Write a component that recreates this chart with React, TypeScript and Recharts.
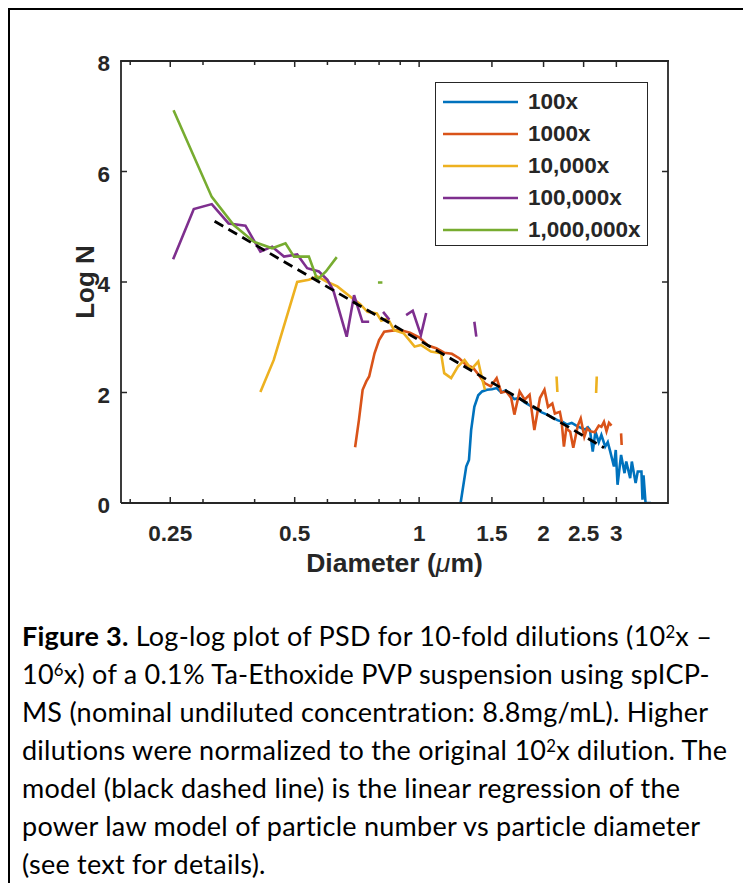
import React from 'react';
import { LineChart, Line, XAxis, YAxis, Legend } from 'recharts';

const AXIS = '#262626';
const FONT = '"Liberation Sans", Arial, Helvetica, sans-serif';
const CAPTION_FONT = 'Lato, "Open Sans", sans-serif';

const seriesNames = ['100x', '1000x', '10,000x', '100,000x', '1,000,000x'];
const seriesColors = ['#0072BD', '#D95319', '#EDB120', '#7E2F8E', '#77AC30'];

const xMajorTicks = [0.25, 0.5, 1, 1.5, 2, 2.5, 3];
const xMinorTicks = [0.2, 0.3, 0.4, 0.6, 0.7, 0.8, 0.9];
const yTicks = [0, 2, 4, 6, 8];
const xDomain = [0.19, 4];
const yDomain = [0, 8];

type P = { d: number; n: number | null };
const pts = (a: [number, number | null][]): P[] => a.map(([d, n]) => ({ d, n }));

const dil100x = pts([
  [1.26, 0], [1.3, 0.66], [1.32, 0.78], [1.336, 1.32], [1.36, 1.74], [1.39, 1.95], [1.42, 2.02],
  [1.46, 2.05], [1.5, 2.06], [1.54, 2.08], [1.58, 2.0], [1.62, 2.04], [1.66, 1.95], [1.7, 1.88],
  [1.75, 1.9], [1.8, 1.82], [1.86, 1.76], [1.92, 1.7], [1.98, 1.64], [2.04, 1.6], [2.1, 1.55],
  [2.16, 1.5], [2.22, 1.47], [2.28, 1.42], [2.34, 1.45], [2.4, 1.4], [2.46, 1.36], [2.52, 1.33],
  [2.56, 1.37], [2.59, 1.32], [2.63, 0.93], [2.67, 1.29], [2.72, 1.1], [2.76, 1.23], [2.82, 1.02],
  [2.86, 1.1], [2.9, 0.93], [2.96, 0.66], [2.99, 0.96], [3.02, 0.33], [3.08, 0.87], [3.14, 0.54],
  [3.17, 0.75], [3.24, 0.45], [3.27, 0.75], [3.34, 0.36], [3.38, 0.57], [3.45, 0.57], [3.47, 0.06],
  [3.49, 0.5], [3.53, 0], [3.64, 0],
]);

const dil1000x = pts([
  [0.7, 1.01], [0.715, 1.5], [0.73, 2.05], [0.745, 2.2], [0.757, 2.29], [0.78, 2.71], [0.8, 2.95],
  [0.823, 3.1], [0.86, 3.12], [0.9, 3.13], [0.95, 3.08], [1.0, 3.0], [1.05, 2.85], [1.1, 2.8],
  [1.15, 2.72], [1.2, 2.7], [1.25, 2.62], [1.3, 2.5], [1.35, 2.45], [1.4, 2.3], [1.44, 2.17],
  [1.49, 2.11], [1.54, 2.26], [1.58, 2.0], [1.625, 2.02], [1.67, 1.9], [1.7, 1.6], [1.75, 2.02],
  [1.8, 1.87], [1.85, 1.96], [1.9, 1.32], [1.96, 1.9], [2.01, 2.05], [2.05, 1.74], [2.1, 1.8],
  [2.13, 1.62], [2.19, 1.65], [2.21, 1.5], [2.24, 1.02], [2.27, 1.35], [2.32, 1.29], [2.36, 1.0],
  [2.42, 1.4], [2.46, 1.53], [2.51, 1.2], [2.55, 1.35], [2.59, 1.3], [2.66, 1.28], [2.72, 1.4],
  [2.76, 1.38], [2.8, 1.47], [2.84, 1.3], [2.88, 1.45], [2.92, 1.4], [3.0, null], [3.08, 1.26],
  [3.09, 1.05],
]);

const dil10000x = pts([
  [0.413, 2.01], [0.445, 2.59], [0.507, 4.0], [0.541, 4.04], [0.567, 4.1], [0.6, 4.0], [0.634, 3.92],
  [0.683, 3.73], [0.72, 3.6], [0.75, 3.46], [0.79, 3.43], [0.81, 3.3], [0.84, 3.34], [0.87, 3.13],
  [0.918, 3.07], [0.975, 2.83], [1.01, 2.86], [1.068, 2.74], [1.13, 2.71], [1.15, 2.35], [1.195, 2.26],
  [1.241, 2.47], [1.288, 2.59], [1.337, 2.42], [1.39, 2.56], [1.416, 2.29], [1.443, 2.05],
  [1.8, null], [2.15, 2.29], [2.16, 2.01], [2.4, null], [2.69, 2.29], [2.68, 1.99],
]);

const dil100000x = pts([
  [0.254, 4.41], [0.285, 5.32], [0.315, 5.41], [0.346, 5.06], [0.38, 5.02], [0.413, 4.55],
  [0.441, 4.64], [0.471, 4.46], [0.507, 4.5], [0.536, 4.25], [0.572, 4.19], [0.6, 4.04],
  [0.62, 3.85], [0.668, 3.01], [0.696, 3.76], [0.729, 3.28], [0.757, 3.28], [0.79, null],
  [0.818, 3.46], [0.847, 3.32], [0.9, null], [0.93, 3.4], [0.965, 3.48], [1.01, 3.04], [1.04, 3.44],
  [1.2, null], [1.36, 3.28], [1.375, 3.01],
]);

const dil1000000x = pts([
  [0.2546, 7.11], [0.315, 5.54], [0.356, 5.03], [0.398, 4.73], [0.441, 4.61], [0.475, 4.7],
  [0.498, 4.46], [0.541, 4.46], [0.567, 4.04], [0.595, 4.19], [0.632, 4.45], [0.7, null],
  [0.795, 3.99], [0.815, 3.99],
]);

const modelFit = pts([[0.32, 5.1], [2.8, 1.0]]);

const seriesData = [dil100x, dil1000x, dil10000x, dil100000x, dil1000000x];
const allXTicks = [...xMinorTicks, ...xMajorTicks].sort((a, b) => a - b);

// chart geometry
const CHART_W = 733;
const CHART_H = 600;
const MARGIN = { top: 51, right: 75, left: 51, bottom: 47 };
const Y_AXIS_W = 60;
const X_AXIS_H = 60;
const PLOT_L = MARGIN.left + Y_AXIS_W;
const PLOT_T = MARGIN.top;
const PLOT_W = CHART_W - MARGIN.left - MARGIN.right - Y_AXIS_W;
const PLOT_H = CHART_H - MARGIN.top - MARGIN.bottom - X_AXIS_H;
const PLOT_R = PLOT_L + PLOT_W;
const PLOT_B = PLOT_T + PLOT_H;
// same log / linear mapping the chart uses, for the mirrored box ticks only
const xPos = (v: number) => PLOT_L + (PLOT_W * Math.log(v / xDomain[0])) / Math.log(xDomain[1] / xDomain[0]);
const yPos = (v: number) => PLOT_B - (PLOT_H * (v - yDomain[0])) / (yDomain[1] - yDomain[0]);

const BottomTick = (props: any) => {
  const { x, y, payload } = props;
  const v = payload.value;
  const major = xMajorTicks.includes(v);
  return (
    <g>
      <line x1={x} x2={x} y1={y} y2={y - (major ? 6 : 4)} stroke={AXIS} strokeWidth={1.5} />
      {major && (
        <text x={x} y={y + 38} textAnchor="middle" fontFamily={FONT} fontWeight="bold" fontSize={22.5} fill={AXIS}>
          {String(v)}
        </text>
      )}
    </g>
  );
};

const LeftTick = (props: any) => {
  const { x, y, payload } = props;
  return (
    <g>
      <line x1={x} x2={x + 6} y1={y} y2={y} stroke={AXIS} strokeWidth={1.5} />
      <text x={x - 11} y={y + 10} textAnchor="end" fontFamily={FONT} fontWeight="bold" fontSize={22.5} fill={AXIS}>
        {String(payload.value)}
      </text>
    </g>
  );
};

const XTitle = (props: any) => {
  const vb = props.viewBox || { x: PLOT_L, y: PLOT_B, width: PLOT_W, height: X_AXIS_H };
  const cx = vb.x + vb.width / 2;
  return (
    <text x={cx} y={vb.y + 69} textAnchor="middle" fontFamily={FONT} fontWeight="bold" fontSize={26.5} fill={AXIS}>
      Diameter (<tspan fontStyle="italic" fontWeight="normal">μ</tspan>m)
    </text>
  );
};

const YTitle = (props: any) => {
  const vb = props.viewBox || { x: MARGIN.left, y: PLOT_T, width: Y_AXIS_W, height: PLOT_H };
  const cx = vb.x + vb.width - 36;
  const cy = vb.y + vb.height / 2;
  return (
    <text
      x={cx}
      y={cy}
      transform={`rotate(-90, ${cx}, ${cy})`}
      textAnchor="middle"
      dominantBaseline="central"
      fontFamily={FONT}
      fontWeight="bold"
      fontSize={26}
      fill={AXIS}
    >
      Log N
    </text>
  );
};

const LegendBox = () => (
  <div
    style={{
      width: 213,
      height: 164,
      boxSizing: 'border-box',
      border: `1.6px solid ${AXIS}`,
      background: '#fff',
      paddingTop: 3,
    }}
  >
    {seriesNames.map((name, i) => (
      <div key={name} style={{ height: 32, display: 'flex', alignItems: 'center' }}>
        <svg width={92} height={32} style={{ display: 'block' }}>
          <line x1={7} x2={82} y1={16} y2={16} stroke={seriesColors[i]} strokeWidth={2.6} />
        </svg>
        <span style={{ fontFamily: FONT, fontWeight: 'bold', fontSize: 22.5, color: AXIS, lineHeight: '32px' }}>
          {name}
        </span>
      </div>
    ))}
  </div>
);

// top and right sides of the axes box, with inward ticks (MATLAB "box on")
const BoxOverlay = () => (
  <svg
    width={CHART_W}
    height={CHART_H}
    style={{ position: 'absolute', left: 0, top: 0, pointerEvents: 'none', overflow: 'visible' }}
  >
    <line x1={PLOT_L} x2={PLOT_R} y1={PLOT_T} y2={PLOT_T} stroke={AXIS} strokeWidth={1.8} strokeLinecap="square" />
    <line x1={PLOT_R} x2={PLOT_R} y1={PLOT_T} y2={PLOT_B} stroke={AXIS} strokeWidth={1.8} strokeLinecap="square" />
    {allXTicks.map((v) => (
      <line
        key={`t${v}`}
        x1={xPos(v)}
        x2={xPos(v)}
        y1={PLOT_T}
        y2={PLOT_T + (xMajorTicks.includes(v) ? 6 : 4)}
        stroke={AXIS}
        strokeWidth={1.5}
      />
    ))}
    {yTicks.map((v) => (
      <line key={`r${v}`} x1={PLOT_R} x2={PLOT_R - 6} y1={yPos(v)} y2={yPos(v)} stroke={AXIS} strokeWidth={1.5} />
    ))}
  </svg>
);

const Sup = ({ children }: { children: React.ReactNode }) => (
  <span style={{ position: 'relative', top: '-0.5em', fontSize: '0.62em', lineHeight: 0 }}>{children}</span>
);

const captionLines: React.ReactNode[] = [
  <>
    <b>Figure 3.</b> Log-log plot of PSD for 10-fold dilutions (10<Sup>2</Sup>x –
  </>,
  <>
    10<Sup>6</Sup>x) of a 0.1% Ta-Ethoxide PVP suspension using spICP-
  </>,
  <>MS (nominal undiluted concentration: 8.8mg/mL). Higher</>,
  <>
    dilutions were normalized to the original 10<Sup>2</Sup>x dilution. The
  </>,
  <>model (black dashed line) is the linear regression of the</>,
  <>power law model of particle number vs particle diameter</>,
  <>(see text for details).</>,
];

export default function App() {
  return (
    <div
      style={{
        position: 'relative',
        width: 733,
        height: 890,
        border: '2px solid #000',
        background: '#fff',
        overflow: 'hidden',
      }}
    >
      <div style={{ position: 'absolute', left: 0, top: 0, width: CHART_W, height: CHART_H }}>
        <LineChart width={CHART_W} height={CHART_H} margin={MARGIN}>
          <XAxis
            xAxisId="b"
            dataKey="d"
            type="number"
            scale="log"
            domain={xDomain}
            allowDataOverflow
            ticks={allXTicks}
            interval={0}
            height={X_AXIS_H}
            tickSize={0}
            tickMargin={0}
            tickLine={false}
            tick={<BottomTick />}
            axisLine={{ stroke: AXIS, strokeWidth: 1.8 }}
            label={<XTitle />}
          />
          <YAxis
            yAxisId="l"
            type="number"
            domain={yDomain}
            allowDataOverflow
            ticks={yTicks}
            interval={0}
            width={Y_AXIS_W}
            tickSize={0}
            tickMargin={0}
            tickLine={false}
            tick={<LeftTick />}
            axisLine={{ stroke: AXIS, strokeWidth: 1.8 }}
            label={<YTitle />}
          />
          {seriesData.map((data, i) => (
            <Line
              key={seriesNames[i]}
              xAxisId="b"
              yAxisId="l"
              data={data}
              dataKey="n"
              name={seriesNames[i]}
              stroke={seriesColors[i]}
              strokeWidth={2.6}
              dot={false}
              activeDot={false}
              connectNulls={false}
              isAnimationActive={false}
            />
          ))}
          <Line
            xAxisId="b"
            yAxisId="l"
            data={modelFit}
            dataKey="n"
            name="model"
            stroke="#000"
            strokeWidth={2.8}
            strokeDasharray="10 6"
            dot={false}
            activeDot={false}
            isAnimationActive={false}
          />
          <Legend
            layout="vertical"
            align="center"
            verticalAlign="middle"
            content={<LegendBox />}
            wrapperStyle={{ position: 'absolute', left: 425, top: 72, width: 213, height: 164 }}
          />
        </LineChart>
        <BoxOverlay />
      </div>
      <div
        style={{
          position: 'absolute',
          left: 12,
          top: 607,
          fontFamily: CAPTION_FONT,
          fontSize: 27,
          letterSpacing: 0.25,
          lineHeight: '38px',
          color: '#000',
          whiteSpace: 'nowrap',
        }}
      >
        {captionLines.map((l, i) => (
          <div key={i} style={{ height: 38 }}>
            {l}
          </div>
        ))}
      </div>
    </div>
  );
}
